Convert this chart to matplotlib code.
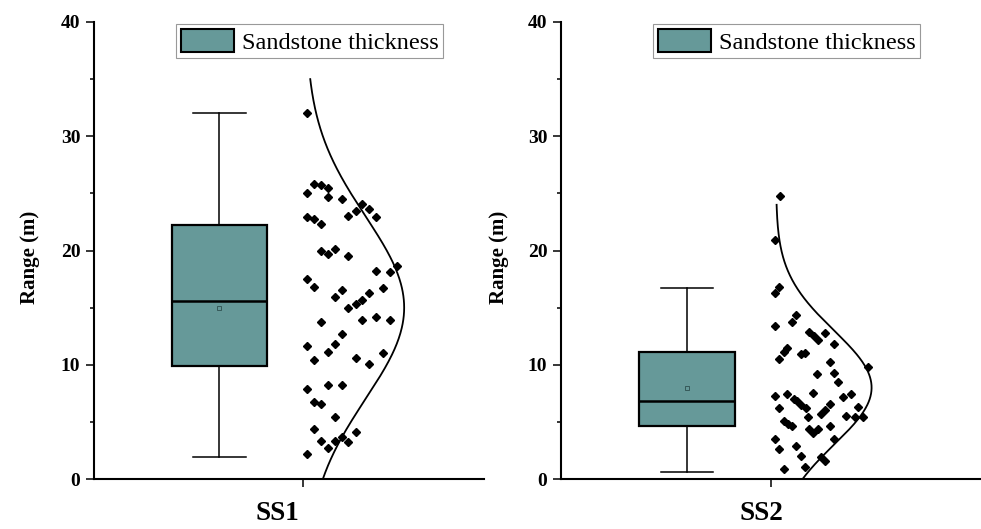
import numpy as np
import matplotlib
matplotlib.use("Agg")
import matplotlib.pyplot as plt
from matplotlib.patches import Patch
from matplotlib.ticker import MultipleLocator

plt.rcParams['font.family'] = ['Liberation Serif', 'DejaVu Serif']

# ---------------- data ----------------
categories = ['SS1', 'SS2']
legend_label = 'Sandstone thickness'
y_label = 'Range (m)'

# box statistics
box_q1 = [9.9, 4.65]
box_median = [15.6, 6.85]
box_q3 = [22.2, 11.1]
box_whislo = [1.95, 0.65]
box_whishi = [32.0, 16.7]
box_mean = [15.0, 8.0]

# individual points (values) and their horizontal jitter
ss1_values = [32.0, 25.8, 25.7, 25.5, 25.0, 24.7, 24.5, 24.1, 23.6, 23.5,
              23.0, 22.9, 22.9, 22.8, 22.3, 20.0, 19.7, 20.1, 19.5, 18.2,
              18.1, 18.6, 17.5, 16.8, 16.7, 16.5, 15.9, 16.3, 15.7, 15.3,
              15.0, 13.7, 13.9, 14.2, 13.9, 12.7, 11.8, 11.6, 11.1, 11.0,
              10.4, 10.6, 10.1, 7.9, 8.2, 8.2, 6.7, 6.6, 5.4, 4.35,
              3.3, 2.7, 3.35, 3.7, 3.2, 4.1, 2.2]
ss1_jitter = [0.021, 0.053, 0.086, 0.118, 0.021, 0.118, 0.185, 0.284, 0.316, 0.252,
              0.217, 0.348, 0.021, 0.053, 0.086, 0.086, 0.118, 0.153, 0.217, 0.348,
              0.416, 0.451, 0.021, 0.053, 0.381, 0.185, 0.153, 0.316, 0.284, 0.252,
              0.217, 0.086, 0.284, 0.348, 0.416, 0.185, 0.153, 0.021, 0.118, 0.381,
              0.053, 0.252, 0.316, 0.021, 0.118, 0.185, 0.053, 0.086, 0.153, 0.053,
              0.086, 0.118, 0.153, 0.185, 0.217, 0.252, 0.021]

ss2_values = [24.8, 20.9, 16.8, 16.25, 14.35, 13.7, 13.4, 12.9, 12.5, 12.2,
              12.8, 11.8, 11.45, 11.15, 10.5, 10.9, 11.0, 10.2, 9.15, 9.3,
              8.45, 9.8, 7.25, 7.45, 7.55, 7.0, 6.8, 6.45, 6.25, 6.2,
              6.6, 6.05, 5.7, 7.2, 7.45, 5.4, 5.55, 6.3, 5.4, 5.4,
              5.1, 4.8, 4.6, 4.35, 4.05, 4.35, 4.6, 3.5, 3.5, 2.65,
              2.9, 2.05, 1.9, 1.6, 0.9, 1.05]
ss2_jitter = [0.042, 0.018, 0.038, 0.019, 0.121, 0.099, 0.019, 0.182, 0.206, 0.222,
              0.257, 0.299, 0.077, 0.060, 0.036, 0.142, 0.163, 0.282, 0.219, 0.299,
              0.321, 0.461, 0.018, 0.078, 0.198, 0.110, 0.126, 0.144, 0.165, 0.036,
              0.282, 0.257, 0.238, 0.341, 0.381, 0.174, 0.357, 0.416, 0.400, 0.440,
              0.062, 0.083, 0.102, 0.182, 0.202, 0.222, 0.282, 0.018, 0.301, 0.038,
              0.121, 0.142, 0.238, 0.257, 0.062, 0.161]

# normal-curve parameters (fitted curve drawn beside the points)
curve_mean = [15.0, 8.0]
curve_sd = [8.0, 5.0]
curve_ymax = [35.0, 24.0]

values = [ss1_values, ss2_values]
jitters = [ss1_jitter, ss2_jitter]

# ---------------- style ----------------
box_color = '#669999'
pos = 1.0
box_shift = -0.40
box_width = 0.455
curve_base = [0.014, 0.024]
curve_amp = [0.47, 0.455]
xlims = [(0, 1.866), (0, 2.0)]
axes_rects = [[94/981, 50/529, 390/981, 457/529],
              [561/981, 50/529, 420/981, 457/529]]
xlabel_x = [0.469, 0.476]
ylabel_x = [-0.138, -0.124]
legend_x = [82 / 390, 92 / 420]

fig = plt.figure(figsize=(9.81, 5.29), dpi=100)

for i in range(2):
    ax = fig.add_axes(axes_rects[i])
    stats = [dict(med=box_median[i], q1=box_q1[i], q3=box_q3[i],
                  whislo=box_whislo[i], whishi=box_whishi[i],
                  mean=box_mean[i], fliers=[])]
    ax.bxp(stats, positions=[pos + box_shift], widths=box_width,
           capwidths=box_width * 0.55,
           showmeans=True, patch_artist=True, showfliers=False,
           boxprops=dict(facecolor=box_color, edgecolor='black', linewidth=1.6),
           medianprops=dict(color='black', linewidth=1.8),
           whiskerprops=dict(color='black', linewidth=1.1),
           capprops=dict(color='black', linewidth=1.1),
           meanprops=dict(marker='s', markersize=3, markerfacecolor='none',
                          markeredgecolor='#2f4f4f', markeredgewidth=0.6),
           manage_ticks=False)

    xs = pos + np.array(jitters[i])
    ax.plot(xs, values[i], linestyle='none', marker='D', markersize=4.2,
            color='black', zorder=3)

    yy = np.linspace(0, curve_ymax[i], 300)
    dens = np.exp(-0.5 * ((yy - curve_mean[i]) / curve_sd[i]) ** 2)
    ax.plot(pos + curve_base[i] + curve_amp[i] * dens, yy, color='black',
            linewidth=1.3, zorder=3)

    ax.set_xlim(*xlims[i])
    ax.set_ylim(0, 40)
    ax.yaxis.set_major_locator(MultipleLocator(10))
    ax.yaxis.set_minor_locator(MultipleLocator(5))
    ax.set_xticks([pos])
    ax.set_xticklabels([''])
    ax.set_xlabel(categories[i], fontsize=19.5, fontweight='bold')
    ax.xaxis.set_label_coords(xlabel_x[i], -0.048)
    for lab in ax.get_yticklabels():
        lab.set_fontsize(14)
        lab.set_fontweight('bold')
    ax.tick_params(axis='both', which='major', direction='out', length=5.8, width=1.1)
    ax.tick_params(axis='y', which='minor', direction='out', length=3, width=1.1)
    ax.tick_params(axis='y', which='major', pad=4)
    ax.spines['top'].set_visible(False)
    ax.spines['right'].set_visible(False)
    for s in ['left', 'bottom']:
        ax.spines[s].set_linewidth(1.5)
    ax.set_ylabel(y_label, fontsize=15, fontweight='bold')
    ax.yaxis.set_label_coords(ylabel_x[i], 0.485)

    handle = Patch(facecolor=box_color, edgecolor='black', linewidth=1.5)
    leg = ax.legend([handle], [legend_label], loc='upper left',
                    bbox_to_anchor=(legend_x[i], 0.996),
                    borderaxespad=0, fontsize=17.5, handlelength=2.2,
                    handleheight=1.1, handletextpad=0.3, borderpad=0.2,
                    fancybox=False, framealpha=1, edgecolor='#999999')
    leg.get_frame().set_linewidth(0.8)

fig.savefig('out.png', dpi=100)
